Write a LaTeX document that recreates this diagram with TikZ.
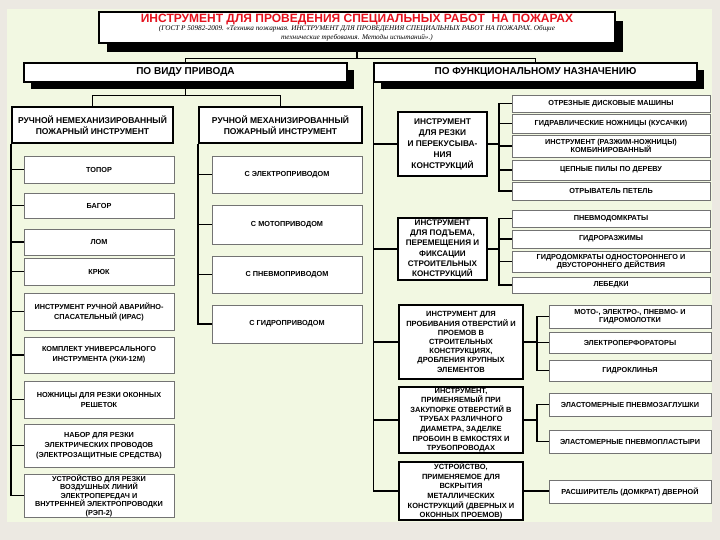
\documentclass[tikz,border=0pt]{standalone}
\usepackage{fontspec}
\setmainfont{Liberation Sans}
\newfontfamily\gostfont{Liberation Serif}
\usetikzlibrary{shadows}
\definecolor{pagebg}{RGB}{236,233,226}
\definecolor{panelbg}{RGB}{242,248,226}
\definecolor{titlered}{RGB}{228,18,30}

\begin{document}
\begin{tikzpicture}[x=1pt,y=-1pt,
  head/.style={draw,line width=1.2pt,fill=white,inner sep=0pt,minimum width=323,minimum height=19,
    general shadow={fill=black,shadow xshift=7pt,shadow yshift=-7pt},
    font=\bfseries\fontsize{10}{12}\selectfont},
  grp/.style={draw,line width=1.8pt,fill=white,inner sep=0pt,align=center,
    font=\bfseries\fontsize{8.5}{10.5}\selectfont},
  grpsm/.style={grp,font=\bfseries\fontsize{7.5}{9.6}\selectfont},
  leaf/.style={draw=black!55,line width=0.6pt,fill=white,inner sep=0pt,align=center,
    font=\bfseries\fontsize{7.3}{10}\selectfont},
  link/.style={line width=1.4pt}]
\useasboundingbox (0,0) rectangle (720,540);
\fill[pagebg] (0,0) rectangle (720,540);
\fill[panelbg] (7,9) rectangle (712,522);

\node[draw,line width=1.2pt,fill=white,inner sep=0pt,minimum width=516,minimum height=31,align=center,
  general shadow={fill=black,shadow xshift=8pt,shadow yshift=-9pt},
  font=\gostfont\itshape\fontsize{7.2}{9}\selectfont] (title) at (357,27.5)
  {{\color{titlered}\upshape\fontspec{Liberation Sans}\bfseries\fontsize{12}{12}\selectfont ИНСТРУМЕНТ ДЛЯ ПРОВЕДЕНИЯ СПЕЦИАЛЬНЫХ РАБОТ\ \ НА ПОЖАРАХ}\\[-1pt]
  (ГОСТ Р 50982-2009. «Техника пожарная. ИНСТРУМЕНТ ДЛЯ ПРОВЕДЕНИЯ СПЕЦИАЛЬНЫХ РАБОТ НА ПОЖАРАХ. Общие\\
  технические требования. Методы испытаний».)};

\node[head] (vid) at (185.5,72.5) {ПО ВИДУ ПРИВОДА};
\node[head] (func) at (535.5,72.5) {ПО ФУНКЦИОНАЛЬНОМУ НАЗНАЧЕНИЮ};

\node[grp,minimum width=161,minimum height=36] (nemech) at (92.5,125) {РУЧНОЙ НЕМЕХАНИЗИРОВАННЫЙ\\ПОЖАРНЫЙ ИНСТРУМЕНТ};
\node[grp,minimum width=163,minimum height=36] (mech) at (280.5,125) {РУЧНОЙ МЕХАНИЗИРОВАННЫЙ\\ПОЖАРНЫЙ ИНСТРУМЕНТ};

\node[leaf,minimum width=150,minimum height=27] (topor) at (99,169.5) {ТОПОР};
\node[leaf,minimum width=150,minimum height=25] (bagor) at (99,205.5) {БАГОР};
\node[leaf,minimum width=150,minimum height=26] (lom) at (99,242) {ЛОМ};
\node[leaf,minimum width=150,minimum height=27] (kryuk) at (99,271.5) {КРЮК};
\node[leaf,minimum width=150,minimum height=37] (iras) at (99,311.5) {ИНСТРУМЕНТ РУЧНОЙ АВАРИЙНО-\\СПАСАТЕЛЬНЫЙ (ИРАС)};
\node[leaf,minimum width=150,minimum height=36] (kompl) at (99,355) {КОМПЛЕКТ УНИВЕРСАЛЬНОГО\\ИНСТРУМЕНТА (УКИ-12М)};
\node[leaf,minimum width=150,minimum height=37] (nozh) at (99,399.5) {НОЖНИЦЫ ДЛЯ РЕЗКИ ОКОННЫХ\\РЕШЕТОК};
\node[leaf,minimum width=150,minimum height=43] (nabor) at (99,445.5) {НАБОР ДЛЯ РЕЗКИ\\ЭЛЕКТРИЧЕСКИХ ПРОВОДОВ\\(ЭЛЕКТРОЗАЩИТНЫЕ СРЕДСТВА)};
\node[leaf,minimum width=150,minimum height=43,font=\bfseries\fontsize{7.3}{8.5}\selectfont] (ustr) at (99,495.5)
  {УСТРОЙСТВО ДЛЯ РЕЗКИ\\ВОЗДУШНЫХ ЛИНИЙ\\ЭЛЕКТРОПЕРЕДАЧ И\\ВНУТРЕННЕЙ ЭЛЕКТРОПРОВОДКИ\\(РЭП-2)};

\node[leaf,minimum width=150,minimum height=37] (elec) at (287,174.5) {С ЭЛЕКТРОПРИВОДОМ};
\node[leaf,minimum width=150,minimum height=39] (moto) at (287,224.5) {С МОТОПРИВОДОМ};
\node[leaf,minimum width=150,minimum height=37] (pnev) at (287,274.5) {С ПНЕВМОПРИВОДОМ};
\node[leaf,minimum width=150,minimum height=38] (gidr) at (287,324) {С ГИДРОПРИВОДОМ};

\node[grp,minimum width=89,minimum height=64,font=\bfseries\fontsize{8.3}{11}\selectfont] (g1) at (442.5,144)
  {ИНСТРУМЕНТ\\ДЛЯ РЕЗКИ\\И ПЕРЕКУСЫВА-\\НИЯ\\КОНСТРУКЦИЙ};
\node[grp,minimum width=89,minimum height=62,font=\bfseries\fontsize{8.1}{10.3}\selectfont] (g2) at (442.5,249)
  {ИНСТРУМЕНТ\\ДЛЯ ПОДЪЕМА,\\ПЕРЕМЕЩЕНИЯ И\\ФИКСАЦИИ\\СТРОИТЕЛЬНЫХ\\КОНСТРУКЦИЙ};
\node[grpsm,minimum width=124,minimum height=74,font=\bfseries\fontsize{7.5}{9.2}\selectfont] (g3) at (461,342)
  {ИНСТРУМЕНТ ДЛЯ\\ПРОБИВАНИЯ ОТВЕРСТИЙ И\\ПРОЕМОВ В\\СТРОИТЕЛЬНЫХ\\КОНСТРУКЦИЯХ,\\ДРОБЛЕНИЯ КРУПНЫХ\\ЭЛЕМЕНТОВ};
\node[grpsm,minimum width=124,minimum height=66] (g4) at (461,420)
  {ИНСТРУМЕНТ,\\ПРИМЕНЯЕМЫЙ ПРИ\\ЗАКУПОРКЕ ОТВЕРСТИЙ В\\ТРУБАХ РАЗЛИЧНОГО\\ДИАМЕТРА, ЗАДЕЛКЕ\\ПРОБОИН В ЕМКОСТЯХ И\\ТРУБОПРОВОДАХ};
\node[grpsm,minimum width=124,minimum height=58] (g5) at (461,491)
  {УСТРОЙСТВО,\\ПРИМЕНЯЕМОЕ ДЛЯ\\ВСКРЫТИЯ\\МЕТАЛЛИЧЕСКИХ\\КОНСТРУКЦИЙ (ДВЕРНЫХ И\\ОКОННЫХ ПРОЕМОВ)};

\node[leaf,minimum width=198,minimum height=17] (a1) at (611,103.5) {ОТРЕЗНЫЕ ДИСКОВЫЕ МАШИНЫ};
\node[leaf,minimum width=198,minimum height=19] (a2) at (611,123.5) {ГИДРАВЛИЧЕСКИЕ НОЖНИЦЫ (КУСАЧКИ)};
\node[leaf,minimum width=198,minimum height=22,font=\bfseries\fontsize{7.3}{8.5}\selectfont] (a3) at (611,146) {ИНСТРУМЕНТ (РАЗЖИМ-НОЖНИЦЫ)\\КОМБИНИРОВАННЫЙ};
\node[leaf,minimum width=198,minimum height=20] (a4) at (611,170) {ЦЕПНЫЕ ПИЛЫ ПО ДЕРЕВУ};
\node[leaf,minimum width=198,minimum height=18] (a5) at (611,191) {ОТРЫВАТЕЛЬ ПЕТЕЛЬ};

\node[leaf,minimum width=198,minimum height=17] (b1) at (611,218.5) {ПНЕВМОДОМКРАТЫ};
\node[leaf,minimum width=198,minimum height=18] (b2) at (611,239) {ГИДРОРАЗЖИМЫ};
\node[leaf,minimum width=198,minimum height=21,font=\bfseries\fontsize{7.3}{8.5}\selectfont] (b3) at (611,261.5) {ГИДРОДОМКРАТЫ ОДНОСТОРОННЕГО И\\ДВУСТОРОННЕГО ДЕЙСТВИЯ};
\node[leaf,minimum width=198,minimum height=16] (b4) at (611,285) {ЛЕБЕДКИ};

\node[leaf,minimum width=162,minimum height=23,font=\bfseries\fontsize{7.3}{8.5}\selectfont] (c1) at (630,316.5) {МОТО-, ЭЛЕКТРО-, ПНЕВМО- И\\ГИДРОМОЛОТКИ};
\node[leaf,minimum width=162,minimum height=21] (c2) at (630,342.5) {ЭЛЕКТРОПЕРФОРАТОРЫ};
\node[leaf,minimum width=162,minimum height=21] (c3) at (630,370.5) {ГИДРОКЛИНЬЯ};
\node[leaf,minimum width=162,minimum height=23] (d1) at (630,404.5) {ЭЛАСТОМЕРНЫЕ ПНЕВМОЗАГЛУШКИ};
\node[leaf,minimum width=162,minimum height=23] (d2) at (630,441.5) {ЭЛАСТОМЕРНЫЕ ПНЕВМОПЛАСТЫРИ};
\node[leaf,minimum width=162,minimum height=23] (e1) at (630,491.5) {РАСШИРИТЕЛЬ (ДОМКРАТ) ДВЕРНОЙ};

\draw[link] (title.south) -- ++(0,15) coordinate (tj);
\draw[link] (vid.north) |- (tj) -| (func.north);
\draw[link] (vid.south) -- ++(0,13) coordinate (vj);
\draw[link] (nemech.north) |- (vj) -| (mech.north);

\draw[link] (nemech.south west) |- (ustr.west);
\draw[link] (nemech.south west |- topor.west) -- (topor.west);
\draw[link] (nemech.south west |- bagor.west) -- (bagor.west);
\draw[link] (nemech.south west |- lom.west) -- (lom.west);
\draw[link] (nemech.south west |- kryuk.west) -- (kryuk.west);
\draw[link] (nemech.south west |- iras.west) -- (iras.west);
\draw[link] (nemech.south west |- kompl.west) -- (kompl.west);
\draw[link] (nemech.south west |- nozh.west) -- (nozh.west);
\draw[link] (nemech.south west |- nabor.west) -- (nabor.west);

\draw[link] (mech.south west) |- (gidr.west);
\draw[link] (mech.south west |- elec.west) -- (elec.west);
\draw[link] (mech.south west |- moto.west) -- (moto.west);
\draw[link] (mech.south west |- pnev.west) -- (pnev.west);

\draw[link] (func.south west) |- (g5.west);
\draw[link] (func.south west |- g1.west) -- (g1.west);
\draw[link] (func.south west |- g2.west) -- (g2.west);
\draw[link] (func.south west |- g3.west) -- (g3.west);
\draw[link] (func.south west |- g4.west) -- (g4.west);

\draw[link] (g1.east) -- ++(11,0) coordinate (g1j);
\draw[link] (a1.west) -| (g1j) |- (a5.west);
\draw[link] (g1j |- a2.west) -- (a2.west);
\draw[link] (g1j |- a3.west) -- (a3.west);
\draw[link] (g1j |- a4.west) -- (a4.west);

\draw[link] (g2.east) -- ++(11,0) coordinate (g2j);
\draw[link] (b1.west) -| (g2j) |- (b4.west);
\draw[link] (g2j |- b2.west) -- (b2.west);
\draw[link] (g2j |- b3.west) -- (b3.west);

\draw[link] (g3.east) -- ++(13,0) coordinate (g3j);
\draw[link] (c1.west) -| (g3j) |- (c3.west);
\draw[link] (g3j |- c2.west) -- (c2.west);

\draw[link] (g4.east) -- ++(13,0) coordinate (g4j);
\draw[link] (d1.west) -| (g4j) |- (d2.west);

\draw[link] (g5.east) -- (g5.east -| e1.west);
\end{tikzpicture}
\end{document}
